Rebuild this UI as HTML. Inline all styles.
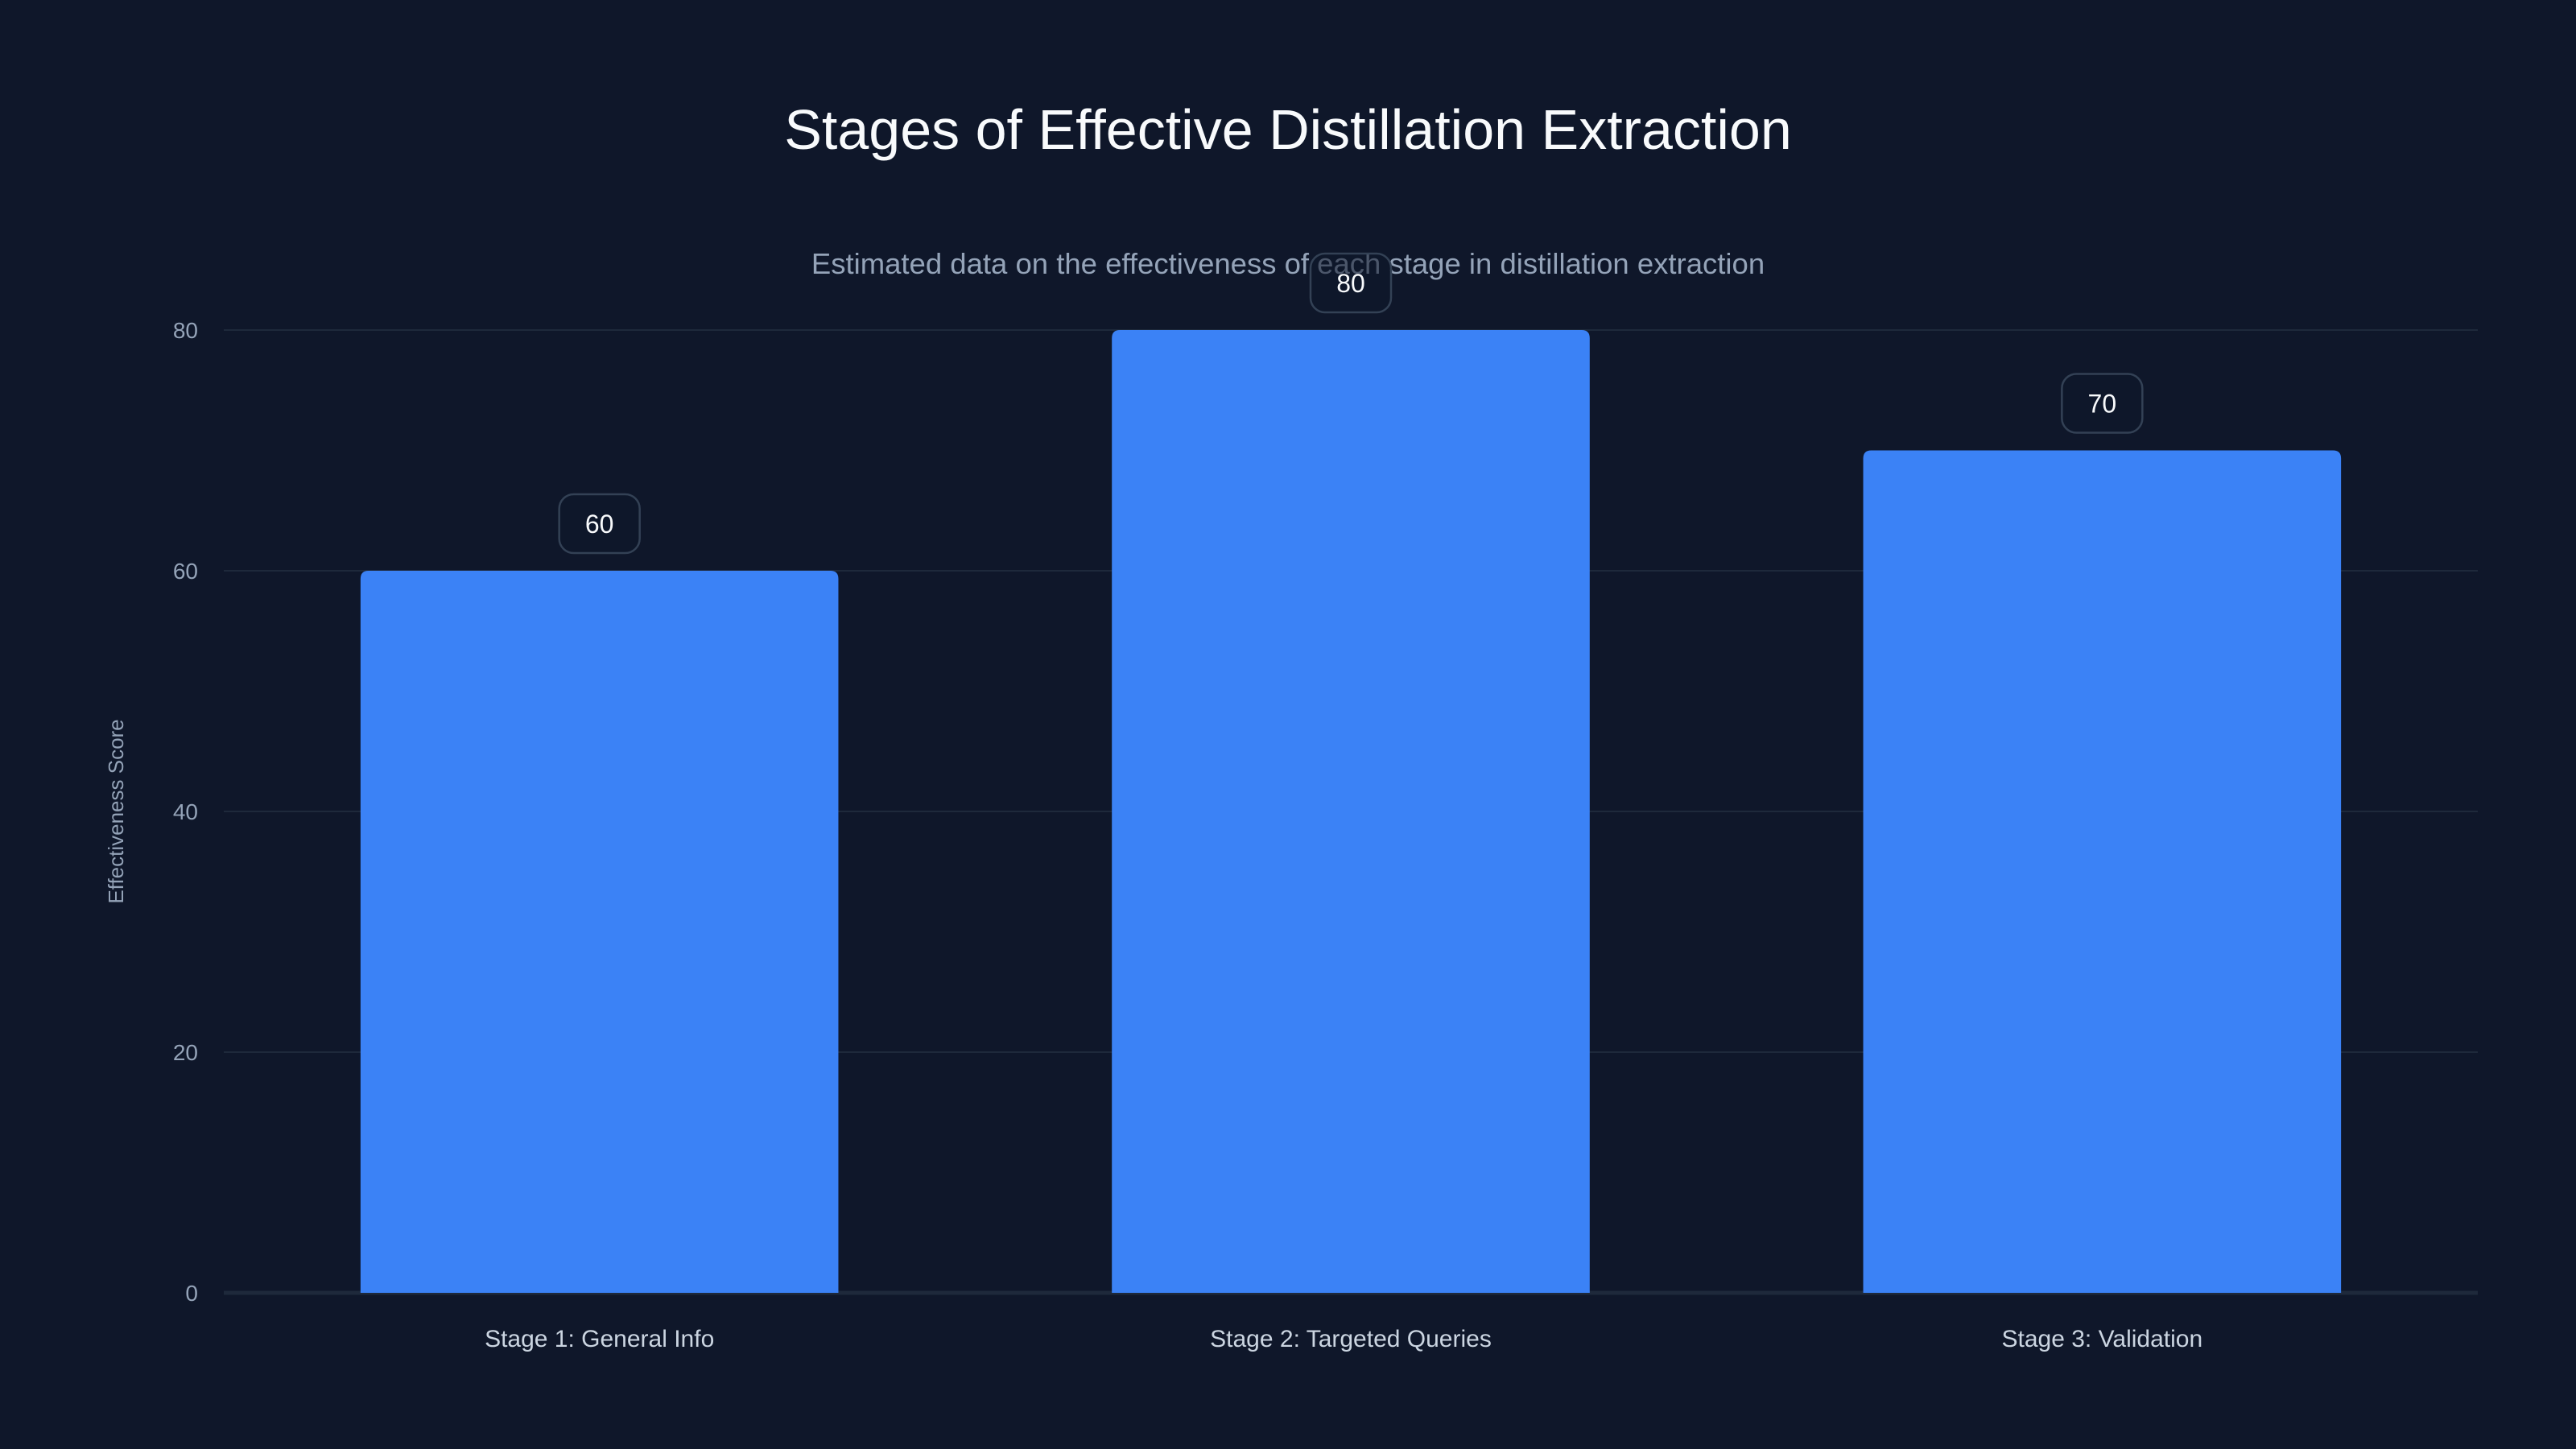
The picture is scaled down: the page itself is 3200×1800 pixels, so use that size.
<!DOCTYPE html>
<html><head><meta charset="utf-8"><style>
html,body{margin:0;padding:0;background:#0f172a;}
svg{display:block;font-family:"Liberation Sans",sans-serif;}
</style></head><body>
<svg id="chart" width="3200" height="1800" viewBox="0 0 3200 1800">
<rect width="3200" height="1800" fill="#0f172a"/>
<text x="1600" y="185" text-anchor="middle" font-size="70" fill="#f8fafc">Stages of Effective Distillation Extraction</text>
<text x="1600" y="340" text-anchor="middle" font-size="36.5" fill="#94a3b8">Estimated data on the effectiveness of each stage in distillation extraction</text>
<text transform="translate(153,1008) rotate(-90)" text-anchor="middle" font-size="26" fill="#94a3b8">Effectiveness Score</text>
<g id="grid"></g><g id="bars"></g><g id="labels"></g>
</svg>
<script>
const categories = ["Stage 1: General Info","Stage 2: Targeted Queries","Stage 3: Validation"];
const values = [60,80,70];
const yTicks = [0,20,40,60,80];
const NS="http://www.w3.org/2000/svg";
const L=278,R=3078,T=410,B=1606,yMax=80;
function y(v){return B-(v/yMax)*(B-T);}
const band=(R-L)/categories.length;
function xc(i){return L+band*(i+0.5);}
const bw=band*0.636;
function mk(tag,attrs,parent){const e=document.createElementNS(NS,tag);for(const k in attrs)e.setAttribute(k,attrs[k]);parent.appendChild(e);return e;}
const grid=document.getElementById('grid'),bars=document.getElementById('bars'),labels=document.getElementById('labels');
yTicks.forEach(t=>{
  const ln=mk('line',{x1:L,x2:R,y1:y(t),y2:y(t),stroke:'#1e293b','stroke-width':t===0?5:2},grid);
  
  
  const tx=mk('text',{x:246,y:y(t)+10,'text-anchor':'end','font-size':28,fill:'#94a3b8'},grid);
  tx.textContent=t;
  
  
});
categories.forEach((c,i)=>{
  const x0=xc(i)-bw/2,yt=y(values[i]),r=10;
  const p=mk('path',{d:`M${x0},${B} V${yt+r} Q${x0},${yt} ${x0+r},${yt} H${x0+bw-r} Q${x0+bw},${yt} ${x0+bw},${yt+r} V${B} Z`,fill:'#3b82f6'},bars);
  
  
  const bx=mk('rect',{x:xc(i)-50,y:yt-95,width:100,height:73,rx:18,fill:'#0f172a','fill-opacity':0.55,stroke:'#334155','stroke-width':2.5},labels);
  
  
  const vt=mk('text',{x:xc(i),y:yt-47,'text-anchor':'middle','font-size':32,fill:'#f8fafc'},labels);
  vt.textContent=values[i];
  
  
  const ct=mk('text',{x:xc(i),y:1673,'text-anchor':'middle','font-size':30,fill:'#cbd5e1'},labels);
  ct.textContent=c;
  
  
});
</script>
</body></html>
